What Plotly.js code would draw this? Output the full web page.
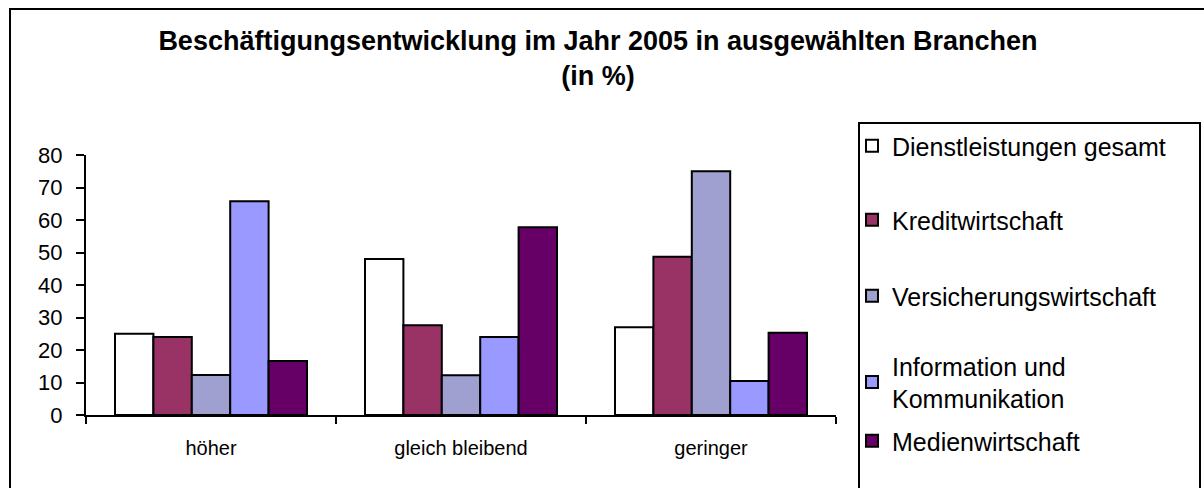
<!DOCTYPE html>
<html>
<head>
<meta charset="utf-8">
<script src="https://cdn.plot.ly/plotly-3.0.1.min.js"></script>
<style>html,body{margin:0;padding:0;background:#fff;overflow:hidden}</style>
</head>
<body>
<div id="chart" style="width:1204px;height:488px"></div>
<script>
const categories = ['höher', 'gleich bleibend', 'geringer'];
const seriesNames = ['Dienstleistungen gesamt', 'Kreditwirtschaft', 'Versicherungswirtschaft', 'Information und<br>Kommunikation', 'Medienwirtschaft'];
const dienstleistungen = [25, 48, 27];
const kreditwirtschaft = [24, 27.6, 48.7];
const versicherungswirtschaft = [12.3, 12.2, 75];
const information = [65.8, 24, 10.5];
const medienwirtschaft = [16.6, 57.8, 25.3];
const seriesValues = [dienstleistungen, kreditwirtschaft, versicherungswirtschaft, information, medienwirtschaft];
const seriesColors = ['#FFFFFF', '#993366', '#A0A0D0', '#9999FF', '#660066'];

const FONT = 'Liberation Sans, Arial, sans-serif';
const W = 1204, H = 488;
const L = 86, R = 836, T = 155, B = 415;
const px = x => (x - L) / (R - L);
const py = y => (B - y) / (B - T);

const legendIds = ['legend', 'legend2', 'legend3', 'legend4', 'legend5'];
const legendCenters = [146, 220, 296, 382, 441];

const traces = seriesValues.map((vals, i) => ({
  type: 'bar',
  name: seriesNames[i],
  x: categories,
  y: vals,
  legend: legendIds[i],
  marker: {color: seriesColors[i], line: {color: '#000000', width: 2}},
  hoverinfo: 'skip'
}));

const layout = {
  width: W, height: H,
  paper_bgcolor: '#FFFFFF', plot_bgcolor: '#FFFFFF',
  margin: {l: L, r: W - R, t: T, b: H - B, pad: 0},
  font: {family: FONT, color: '#000000'},
  title: {
    text: '<b>Beschäftigungsentwicklung im Jahr 2005 in ausgewählten Branchen<br>(in %)</b>',
    font: {family: FONT, size: 27, color: '#000000'},
    xref: 'container', yref: 'container',
    x: 598 / W, xanchor: 'center',
    y: 1 - 50 / H, yanchor: 'top'
  },
  barmode: 'group',
  bargap: 0.232,
  bargroupgap: 0,
  showlegend: true,
  xaxis: {
    type: 'category',
    showline: true, linecolor: '#000000', linewidth: 2,
    ticks: 'outside', tickson: 'boundaries', ticklen: 7, tickwidth: 2, tickcolor: '#000000',
    tickfont: {family: FONT, size: 20, color: '#000000'},
    ticklabelstandoff: 14,
    showgrid: false, zeroline: false, fixedrange: true
  },
  yaxis: {
    range: [0, 80], dtick: 10, tick0: 0,
    showline: true, linecolor: '#000000', linewidth: 2,
    ticks: 'outside', ticklen: 8, tickwidth: 2, tickcolor: '#000000',
    tickfont: {family: FONT, size: 22, color: '#000000'},
    ticklabelstandoff: 9,
    showgrid: false, zeroline: false, fixedrange: true
  },
  shapes: [
    {type: 'rect', xref: 'paper', yref: 'paper',
     x0: px(10), x1: px(1215), y0: py(500), y1: py(9),
     line: {color: '#000000', width: 2}, fillcolor: 'rgba(0,0,0,0)', layer: 'below'},
    {type: 'rect', xref: 'paper', yref: 'paper',
     x0: px(859), x1: px(1200), y0: py(500), y1: py(123),
     line: {color: '#000000', width: 2}, fillcolor: 'rgba(0,0,0,0)', layer: 'below'}
  ]
};

legendIds.forEach((id, i) => {
  layout[id] = {
    x: px(852), xanchor: 'left',
    y: py(legendCenters[i]), yanchor: 'middle',
    bgcolor: 'rgba(0,0,0,0)', borderwidth: 0,
    itemwidth: 30,
    font: {family: FONT, size: 25, color: '#000000'},
    itemclick: false, itemdoubleclick: false
  };
});

Plotly.newPlot('chart', traces, layout, {displayModeBar: false, staticPlot: true});
</script>
</body>
</html>
